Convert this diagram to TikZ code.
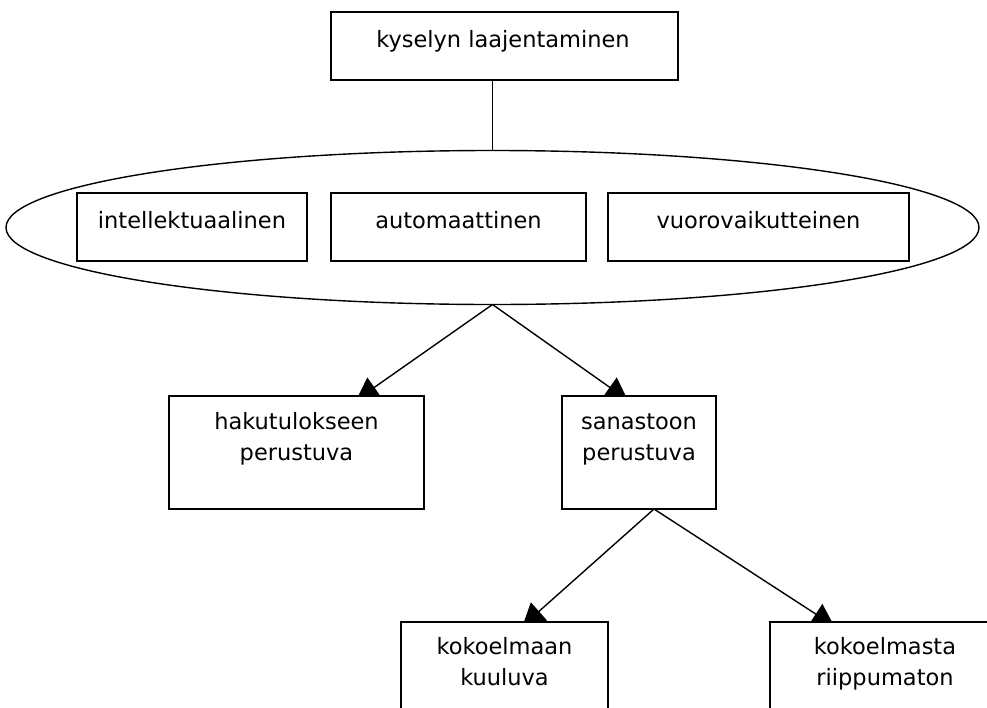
\documentclass[tikz,border=0pt]{standalone}
\usepackage{fontspec}
\setmainfont{DejaVu Sans}
\usetikzlibrary{arrows.meta,shapes.geometric,backgrounds}
\begin{document}
\begin{tikzpicture}[x=1pt,y=-1pt,
  box/.style={draw, line width=1.6pt, fill=white, rectangle, inner sep=0pt, outer sep=0pt},
  lbl/.style={font=\fontsize{22.5}{31}\selectfont, align=center, inner sep=0pt, anchor=base},
  conn/.style={line width=1.4pt},
  arr/.style={conn, -{Triangle[length=22pt, width=24pt]}}]
\clip (0,0) rectangle (987,707);
% top
\node[box, minimum width=347pt, minimum height=68pt] (top) at (504.5,46) {};
\node[lbl] (topt) at (503,47) {kyselyn laajentaminen};
% ellipse with three boxes
\node[draw, line width=1.4pt, ellipse, inner sep=0pt, outer sep=0pt,
      minimum width=973pt, minimum height=154pt] (ell) at (492.5,227.5) {};
\node[box, minimum width=230pt, minimum height=68pt] (b1) at (192,227) {};
\node[box, minimum width=255pt, minimum height=68pt] (b2) at (458.5,227) {};
\node[box, minimum width=301pt, minimum height=68pt] (b3) at (758.5,227) {};
\node[lbl] (b1t) at (192,228) {intellektuaalinen};
\node[lbl] (b2t) at (458.5,228) {automaattinen};
\node[lbl] (b3t) at (758.5,228) {vuorovaikutteinen};
% middle
\node[box, minimum width=255pt, minimum height=113pt] (hak) at (296.5,452.5) {};
\node[box, minimum width=154pt, minimum height=113pt] (san) at (639,452.5) {};
\node[lbl] (hakt) at (296.5,460) {hakutulokseen\\perustuva};
\node[lbl] (sant) at (639,460) {sanastoon\\perustuva};
% bottom
\node[box, minimum width=207pt, minimum height=118pt] (kok1) at (504.5,681) {};
\node[box, minimum width=230pt, minimum height=118pt] (kok2) at (885,681) {};
\node[lbl] (kok1t) at (504.5,685) {kokoelmaan\\kuuluva};
\node[lbl] (kok2t) at (885,685) {kokoelmasta\\riippumaton};
% connectors (behind the boxes, which cover the arrow tips)
\begin{pgfonlayer}{background}
\fill[white] (0,0) rectangle (987,707);
\draw[conn] (ell.north |- top.south) -- (ell.north);
\draw[arr] (ell.south) -- ([xshift=59.8pt,yshift=-4pt]hak.north);
\draw[arr] (ell.south) -- ([xshift=-11.3pt,yshift=-4pt]san.north);
\draw[arr] ([xshift=15pt]san.south) -- ([xshift=18pt,yshift=-4pt]kok1.north);
\draw[arr] ([xshift=15pt]san.south) -- ([xshift=-50.8pt,yshift=-4pt]kok2.north);
\end{pgfonlayer}
\end{tikzpicture}
\end{document}
